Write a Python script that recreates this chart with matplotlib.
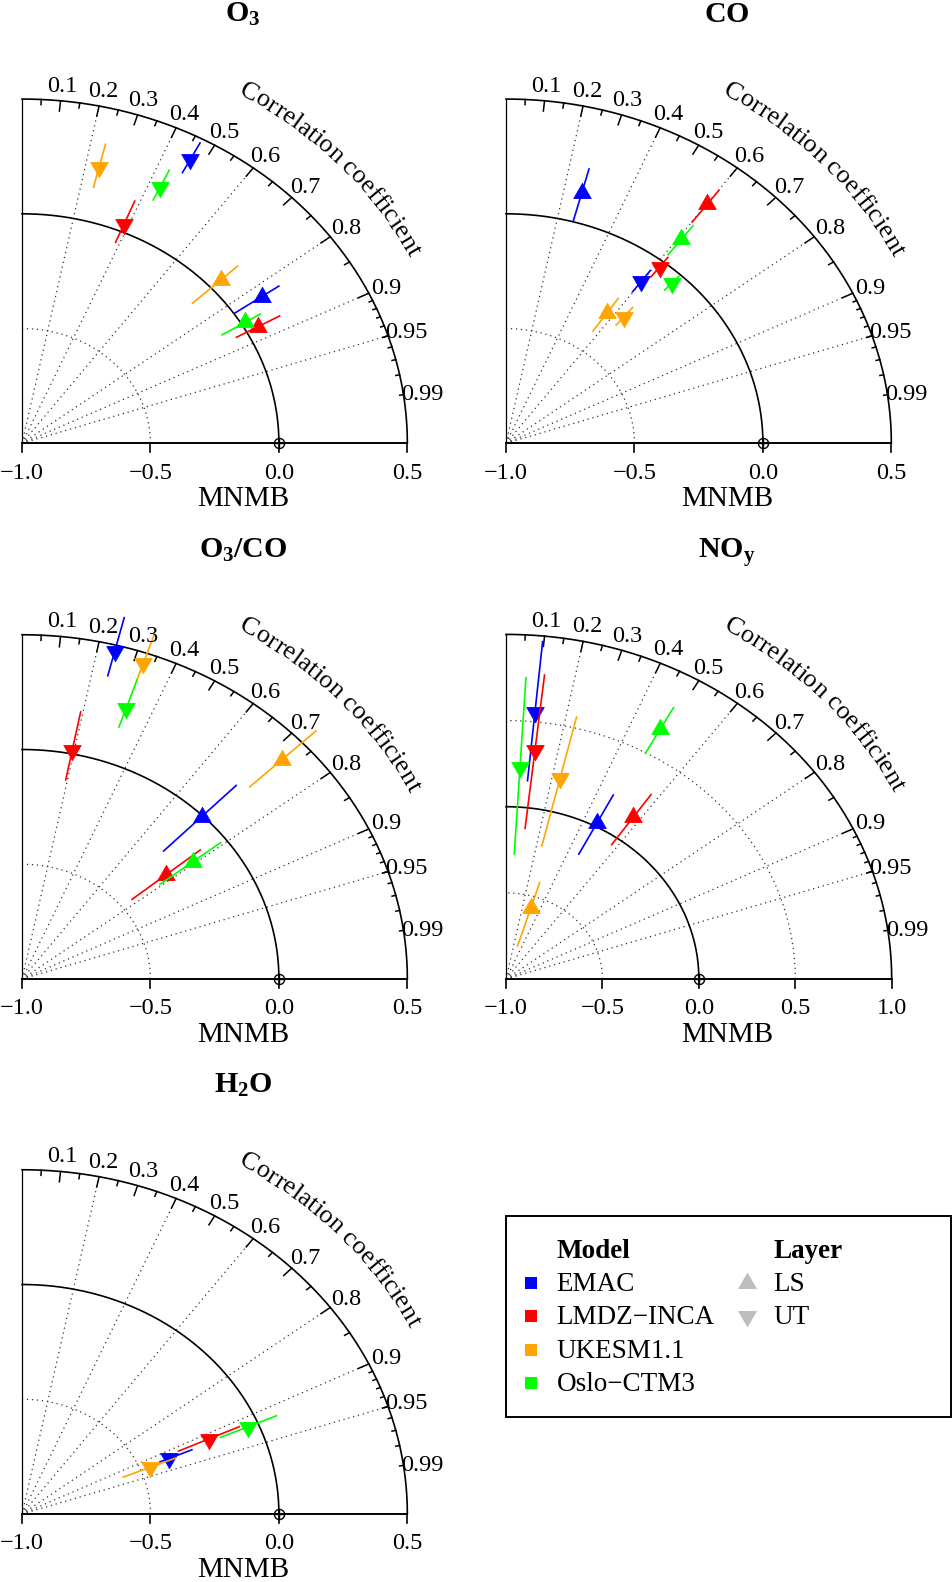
import numpy as np
import matplotlib
matplotlib.use('Agg')
import matplotlib.pyplot as plt
from matplotlib import font_manager as fm
from matplotlib import transforms as mtrans
from matplotlib.patches import Rectangle

plt.rcParams['font.family'] = ['Liberation Serif', 'DejaVu Serif']
plt.rcParams['mathtext.fontset'] = 'custom'
plt.rcParams['mathtext.rm'] = 'Liberation Serif'
plt.rcParams['mathtext.bf'] = 'Liberation Serif:bold'
plt.rcParams['mathtext.it'] = 'Liberation Serif:italic'

# ---------------- data ----------------
models = ['EMAC', 'LMDZ\u2212INCA', 'UKESM1.1', 'Oslo\u2212CTM3']
colors = ['#0000FF', '#FF0000', '#FFA500', '#00FF00']
layers = ['LS', 'UT']

# O3
o3_ls_corr = [0.825, 0.875, 0.736, 0.855]
o3_ls_mnmb = [0.131, 0.049, 0.051, 0.015]
o3_ls_lo = [0.002, -0.046, -0.098, -0.089]
o3_ls_hi = [0.212, 0.146, 0.141, 0.085]
o3_ut_corr = [0.468, 0.384, 0.242, 0.434]
o3_ut_mnmb = [0.400, 0.035, 0.242, 0.238]
o3_ut_lo = [0.335, -0.051, 0.150, 0.177]
o3_ut_hi = [0.481, 0.143, 0.343, 0.321]

# CO
co_ls_corr = [0.261, 0.601, 0.569, 0.609]
co_ls_mnmb = [0.128, 0.305, -0.311, 0.121]
co_ls_lo = [0.004, 0.206, -0.405, 0.036]
co_ls_hi = [0.238, 0.379, -0.233, 0.196]
co_ut_corr = [0.598, 0.614, 0.640, 0.679]
co_ut_mnmb = [-0.118, -0.025, -0.282, -0.051]
co_ut_lo = [-0.176, -0.082, -0.330, -0.091]
co_ut_hi = [-0.061, 0.026, -0.230, -0.009]

# O3/CO
oc_ls_corr = [0.703, 0.777, 0.727, 0.793]
oc_ls_mnmb = [-0.005, -0.280, 0.392, -0.162]
oc_ls_lo = [-0.216, -0.449, 0.219, -0.323]
oc_ls_hi = [0.186, -0.107, 0.574, -0.025]
oc_ut_corr = [0.245, 0.1925, 0.3245, 0.325]
oc_ut_mnmb = [0.476, 0.017, 0.454, 0.247]
oc_ut_lo = [0.363, -0.116, 0.377, 0.161]
oc_ut_hi = [0.624, 0.186, 0.587, 0.377]

# NOy
noy_ls_corr = [0.462, 0.575, 0.298, 0.483]
noy_ls_mnmb = [0.019, 0.147, -0.570, 0.655]
noy_ls_lo = [-0.183, -0.047, -0.799, 0.497]
noy_ls_hi = [0.204, 0.308, -0.414, 0.798]
noy_ut_corr = [0.0965, 0.1125, 0.234, 0.059]
noy_ut_mnmb = [0.559, 0.338, 0.198, 0.234]
noy_ut_lo = [0.156, -0.120, -0.206, -0.273]
noy_ut_hi = [0.967, 0.775, 0.563, 0.752]

# H2O (UT only)
h2o_ut_corr = [0.921, 0.912, 0.926, 0.918]
h2o_ut_mnmb = [-0.377, -0.202, -0.462, -0.040]
h2o_ut_lo = [-0.417, -0.332, -0.574, -0.159]
h2o_ut_hi = [-0.282, -0.072, -0.355, 0.079]

corr_label_values = [0.1, 0.2, 0.3, 0.4, 0.5, 0.6, 0.7, 0.8, 0.9, 0.95, 0.99]
corr_label_text = ['0.1', '0.2', '0.3', '0.4', '0.5', '0.6', '0.7', '0.8', '0.9', '0.95', '0.99']
corr_rays = [0.2, 0.4, 0.6, 0.8, 0.9, 0.95]

# ---------------- figure ----------------
W, H = 952, 1582
DPI = 100
fig = plt.figure(figsize=(W / DPI, H / DPI), dpi=DPI)

UP = [(0, 1), (-0.866, -0.5), (0.866, -0.5), (0, 1)]
DOWN = [(0, -1), (-0.866, 0.5), (0.866, 0.5), (0, -1)]

FS_TICK = 17.5
FS_LAB = 19.5
FS_XLAB = 21
FS_TITLE = 21.5
FS_CURVE = 19


def make_ax(ox, oy, sx, sy):
    x0, x1 = ox - 40, ox + 445
    yt, yb = oy - 445, oy + 75
    ax = fig.add_axes([x0 / W, 1 - yb / H, (x1 - x0) / W, (yb - yt) / H])
    ax.set_xlim((x0 - ox) / sx - 1, (x1 - ox) / sx - 1)
    ax.set_ylim((oy - yb) / sy, (oy - yt) / sy)
    ax.axis('off')
    return ax


def pos(rho, r):
    r = np.asarray(r, dtype=float)
    rho = np.asarray(rho, dtype=float)
    return -1 + rho * r, rho * np.sqrt(1 - r ** 2)


def curved_text(ax, text, maxsd, sx, sy, th_start=59.9, rb0=1.159, rb1=1.141, fs=FS_CURVE):
    fp = fm.FontProperties(family='Liberation Serif', size=fs)
    try:
        font = fm.get_font(fm.findfont(fp))
        font.set_size(fs, DPI)
        advs = [font.load_char(ord(c)).linearHoriAdvance / 65536.0 for c in text]
    except Exception:
        advs = [fs * DPI / 72 * 0.45] * len(text)
    thd = np.linspace(80, 5, 6000)
    th = np.radians(thd)

    def radius(tdeg):
        return maxsd * (rb1 + (rb0 - rb1) * (tdeg - 29.5) / 30.0)

    R = radius(thd)
    Px = R * np.cos(th) * sx
    Py = R * np.sin(th) * sy
    s = np.concatenate([[0], np.cumsum(np.hypot(np.diff(Px), np.diff(Py)))])
    s0 = np.interp(th_start, thd[::-1], s[::-1])
    cum = np.concatenate([[0], np.cumsum(advs[:-1])])
    for i, c in enumerate(text):
        if c == ' ':
            continue
        si = s0 + cum[i] + advs[i] / 2 - advs[0] / 2
        td = np.interp(si, s, thd)
        rr = radius(td)
        x = rr * np.cos(np.radians(td))
        y = rr * np.sin(np.radians(td))
        e = 0.05
        ta, tb = td + e, td - e
        dx = (radius(tb) * np.cos(np.radians(tb)) - radius(ta) * np.cos(np.radians(ta))) * sx
        dy = (radius(tb) * np.sin(np.radians(tb)) - radius(ta) * np.sin(np.radians(ta))) * sy
        ang = np.degrees(np.arctan2(dy, dx))
        ax.text(-1 + x, y, c, rotation=ang, rotation_mode='anchor', ha='center',
                va='baseline', fontsize=fs, clip_on=False)


def draw_panel(ax, maxsd, sx, sy, title, xticks, ls, ut):
    px = lambda p: p / sy  # pixel -> y data units
    # dotted arcs
    t = np.linspace(0, np.pi / 2, 300)
    arc_d = [a for a in np.arange(0.5, maxsd, 0.5) if abs(a - 1.0) > 1e-6]
    for a in arc_d:
        ax.plot(-1 + a * np.cos(t), a * np.sin(t), color='#333333', lw=0.9,
                dashes=(1, 3), clip_on=False)
    # rays
    for g in corr_rays:
        ax.plot([-1, -1 + maxsd * g], [0, maxsd * np.sqrt(1 - g ** 2)], color='#333333',
                lw=0.9, dashes=(1, 3), clip_on=False)
    # reference arc and outer arc
    ax.plot(-1 + np.cos(t), np.sin(t), color='black', lw=1.2, clip_on=False)
    ax.plot(-1 + maxsd * np.cos(t), maxsd * np.sin(t), color='black', lw=1.2, clip_on=False)
    # left axis and x axis
    ax.plot([-1, -1], [0, maxsd], color='black', lw=0.9, clip_on=False)
    ax.plot([-1, -1 + maxsd], [0, 0], color='black', lw=1.4, clip_on=False)
    for xt in xticks:
        ax.plot([xt, xt], [0, -px(9)], color='black', lw=1.2, clip_on=False)
        ax.text(xt, -px(35.5), ('\u2212' if xt < 0 else '') + '%.1f' % abs(xt),
                ha='center', va='baseline', fontsize=FS_TICK, clip_on=False)
    ax.text(221 / sx - 1, -px(63), 'MNMB', ha='center', va='baseline', fontsize=FS_XLAB,
            clip_on=False)
    # ticks on the outer arc
    big = np.arccos(np.arange(0.1, 0.91, 0.1))
    med = np.arccos(np.arange(0.05, 0.96, 0.1))
    sml = np.arccos(np.arange(0.91, 0.995, 0.01))
    for angs, f in [(big, 0.97), (med, 0.985), (sml, 0.99)]:
        for a in angs:
            ax.plot([-1 + maxsd * np.cos(a), -1 + f * maxsd * np.cos(a)],
                    [maxsd * np.sin(a), f * maxsd * np.sin(a)], color='black', lw=1.1,
                    clip_on=False)
    # correlation labels
    tr = mtrans.offset_copy(ax.transData, fig=fig, x=0, y=-8, units='dots')
    for v, lab in zip(corr_label_values, corr_label_text):
        a = np.arccos(v)
        ax.text(-1 + 1.05 * maxsd * np.cos(a), 1.05 * maxsd * np.sin(a), lab,
                transform=tr, ha='center', va='baseline', fontsize=FS_TICK, clip_on=False)
    curved_text(ax, 'Correlation coefficient', maxsd, sx, sy)
    # reference point
    ax.plot([0], [0], marker='o', ms=7.3, mfc='none', mec='black', mew=1.0, clip_on=False)
    ax.plot([0], [0], marker='+', ms=7.3, mec='black', mew=1.0, clip_on=False)
    # title
    ax.text(221 / sx - 1, px(421.5), title, ha='center', va='baseline',
            fontsize=FS_TITLE, clip_on=False)
    # data
    for data, mk in [(ls, UP), (ut, DOWN)]:
        if data is None:
            continue
        corr, mnmb, lo, hi = data
        for i in range(len(models)):
            x0, y0 = pos(1 + lo[i], corr[i])
            x1, y1 = pos(1 + hi[i], corr[i])
            ax.plot([x0, x1], [y0, y1], color=colors[i], lw=1.2, clip_on=False)
            xm, ym = pos(1 + mnmb[i], corr[i])
            ax.plot([xm], [ym], marker=mk, ms=14.5, color=colors[i], mew=0.6,
                    mec=colors[i], clip_on=False)


SX1, SY1 = 256.9, 229.5
SX2, SY2 = 192.85, 172.3

panels = [
    (22, 443.3, SX1, SY1, 1.5, r'$\mathbf{O_3}$', [-1.0, -0.5, 0.0, 0.5],
     (o3_ls_corr, o3_ls_mnmb, o3_ls_lo, o3_ls_hi), (o3_ut_corr, o3_ut_mnmb, o3_ut_lo, o3_ut_hi)),
    (506, 443.3, SX1, SY1, 1.5, r'$\mathbf{CO}$', [-1.0, -0.5, 0.0, 0.5],
     (co_ls_corr, co_ls_mnmb, co_ls_lo, co_ls_hi), (co_ut_corr, co_ut_mnmb, co_ut_lo, co_ut_hi)),
    (22, 979, SX1, SY1, 1.5, r'$\mathbf{O_3/CO}$', [-1.0, -0.5, 0.0, 0.5],
     (oc_ls_corr, oc_ls_mnmb, oc_ls_lo, oc_ls_hi), (oc_ut_corr, oc_ut_mnmb, oc_ut_lo, oc_ut_hi)),
    (506, 979, SX2, SY2, 2.0, r'$\mathbf{NO_y}$', [-1.0, -0.5, 0.0, 0.5, 1.0],
     (noy_ls_corr, noy_ls_mnmb, noy_ls_lo, noy_ls_hi),
     (noy_ut_corr, noy_ut_mnmb, noy_ut_lo, noy_ut_hi)),
    (22, 1514, SX1, SY1, 1.5, r'$\mathbf{H_2O}$', [-1.0, -0.5, 0.0, 0.5],
     None, (h2o_ut_corr, h2o_ut_mnmb, h2o_ut_lo, h2o_ut_hi)),
]

for ox, oy, sx, sy, maxsd, title, xt, ls, ut in panels:
    ax = make_ax(ox, oy, sx, sy)
    draw_panel(ax, maxsd, sx, sy, title, xt, ls, ut)

# ---------------- legend ----------------
lx0, ly0, lx1, ly1 = 498, 1208, 952, 1424
lax = fig.add_axes([lx0 / W, 1 - ly1 / H, (lx1 - lx0) / W, (ly1 - ly0) / H])
lax.set_xlim(lx0, lx1)
lax.set_ylim(ly1, ly0)
lax.axis('off')
lax.add_patch(Rectangle((506, 1215.7), 444.5, 201, fill=False, lw=1.4, ec='black',
                        clip_on=False))
lax.text(556.7, 1258.3, 'Model', fontweight='bold', fontsize=FS_LAB, ha='left',
         va='baseline')
lax.text(773.3, 1258.3, 'Layer', fontweight='bold', fontsize=FS_LAB, ha='left',
         va='baseline')
row_base = [1290.7, 1324.3, 1357.7, 1391.0]
for i, m in enumerate(models):
    lax.plot([531], [row_base[i] - 8.2], marker='s', ms=8.6, color=colors[i], mew=0,
             clip_on=False)
    lax.text(556.7, row_base[i], m, fontsize=FS_LAB, ha='left', va='baseline')
for j, (lay, mk) in enumerate(zip(layers, [UP, DOWN])):
    lax.plot([747.3], [row_base[j] - 8.0], marker=mk, ms=15.8, color='#BEBEBE', mew=0,
             clip_on=False)
    lax.text(773.3, row_base[j], lay, fontsize=FS_LAB, ha='left', va='baseline')

fig.savefig('out.png', dpi=DPI)
